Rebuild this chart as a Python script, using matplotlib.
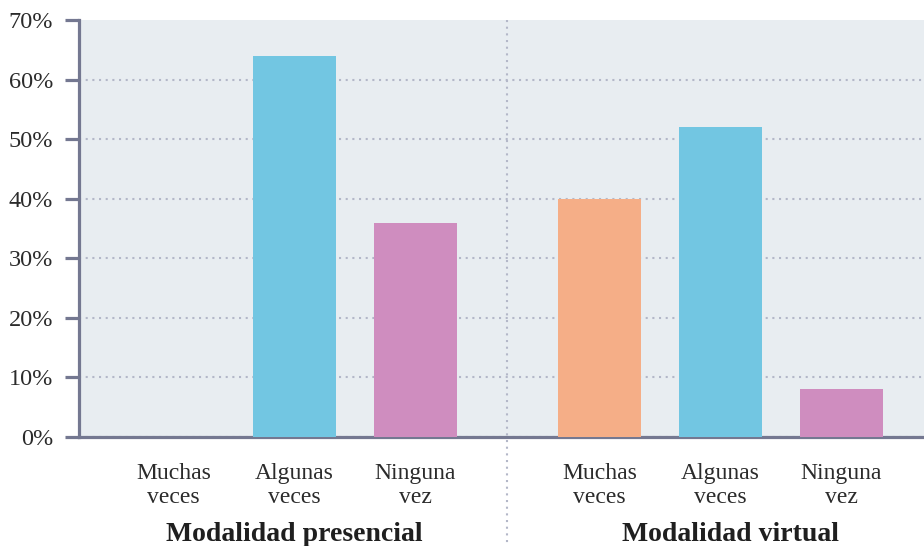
import matplotlib
matplotlib.use("Agg")
import matplotlib.pyplot as plt

# Survey data (% of respondents)
categories = ["Muchas\nveces", "Algunas\nveces", "Ninguna\nvez"]
groups = ["Modalidad presencial", "Modalidad virtual"]
presencial = [0, 64, 36]
virtual = [40, 52, 8]
yticks = [0, 10, 20, 30, 40, 50, 60, 70]

colors = ["#f5ae87", "#72c6e2", "#cf8dbf"]
axis_col = "#747891"
grid_col = "#b3b7c8"
bg_col = "#e8edf1"
text_col = "#2b2b2b"

plt.rcParams["font.family"] = ["Liberation Serif", "DejaVu Serif"]

fig = plt.figure(figsize=(9.24, 5.46), dpi=100)
ax = fig.add_axes([79 / 924, 1 - 437 / 546, 1 - 79 / 924, (437 - 20) / 546])
ax.set_facecolor(bg_col)

group_gap = 1.52
x_pres = [0, 1, 2]
x_virt = [2 + group_gap + i for i in range(3)]
width = 0.686

ax.bar(x_pres, presencial, width=width, color=colors, zorder=3)
ax.bar(x_virt, virtual, width=width, color=colors, zorder=3)

ax.set_xlim(-0.781, 6.2025)
ax.set_ylim(0, 70)
ax.set_yticks(yticks)
ax.set_yticklabels([f"{v}%" for v in yticks], fontsize=17.5, color=text_col)
ax.set_xticks([])

ax.yaxis.grid(True, linestyle=(0, (1, 2.2)), linewidth=1.5, color=grid_col, zorder=1)
ax.set_axisbelow(True)
# no dotted line along the top edge
ax.get_ygridlines()[-1].set_visible(False)

for s in ["top", "right"]:
    ax.spines[s].set_visible(False)
for s in ["left", "bottom"]:
    ax.spines[s].set_color(axis_col)
    ax.spines[s].set_linewidth(2.3)
ax.tick_params(axis="y", length=10, width=2.3, color=axis_col, pad=8.5)

# Separator between the two groups, running below the axis
sep_x = (2 + x_virt[0]) / 2
ax.plot([sep_x, sep_x], [70, -19], linestyle=(0, (1, 2.2)), linewidth=1.5,
        color=grid_col, clip_on=False, zorder=4)

# Category labels (two lines, anchored on the last baseline)
for xs in (x_pres, x_virt):
    for x, lab in zip(xs, categories):
        ax.text(x, -11.1, lab, ha="center", va="baseline", fontsize=17,
                color=text_col, linespacing=1.2)

# Group labels
ax.text(1, -17.4, groups[0], ha="center", va="baseline", fontsize=20,
        fontweight="bold", color="#1f1f1f")
ax.text(x_virt[1] + 0.08, -17.4, groups[1], ha="center", va="baseline",
        fontsize=20, fontweight="bold", color="#1f1f1f")

fig.savefig("out.png", dpi=100)
